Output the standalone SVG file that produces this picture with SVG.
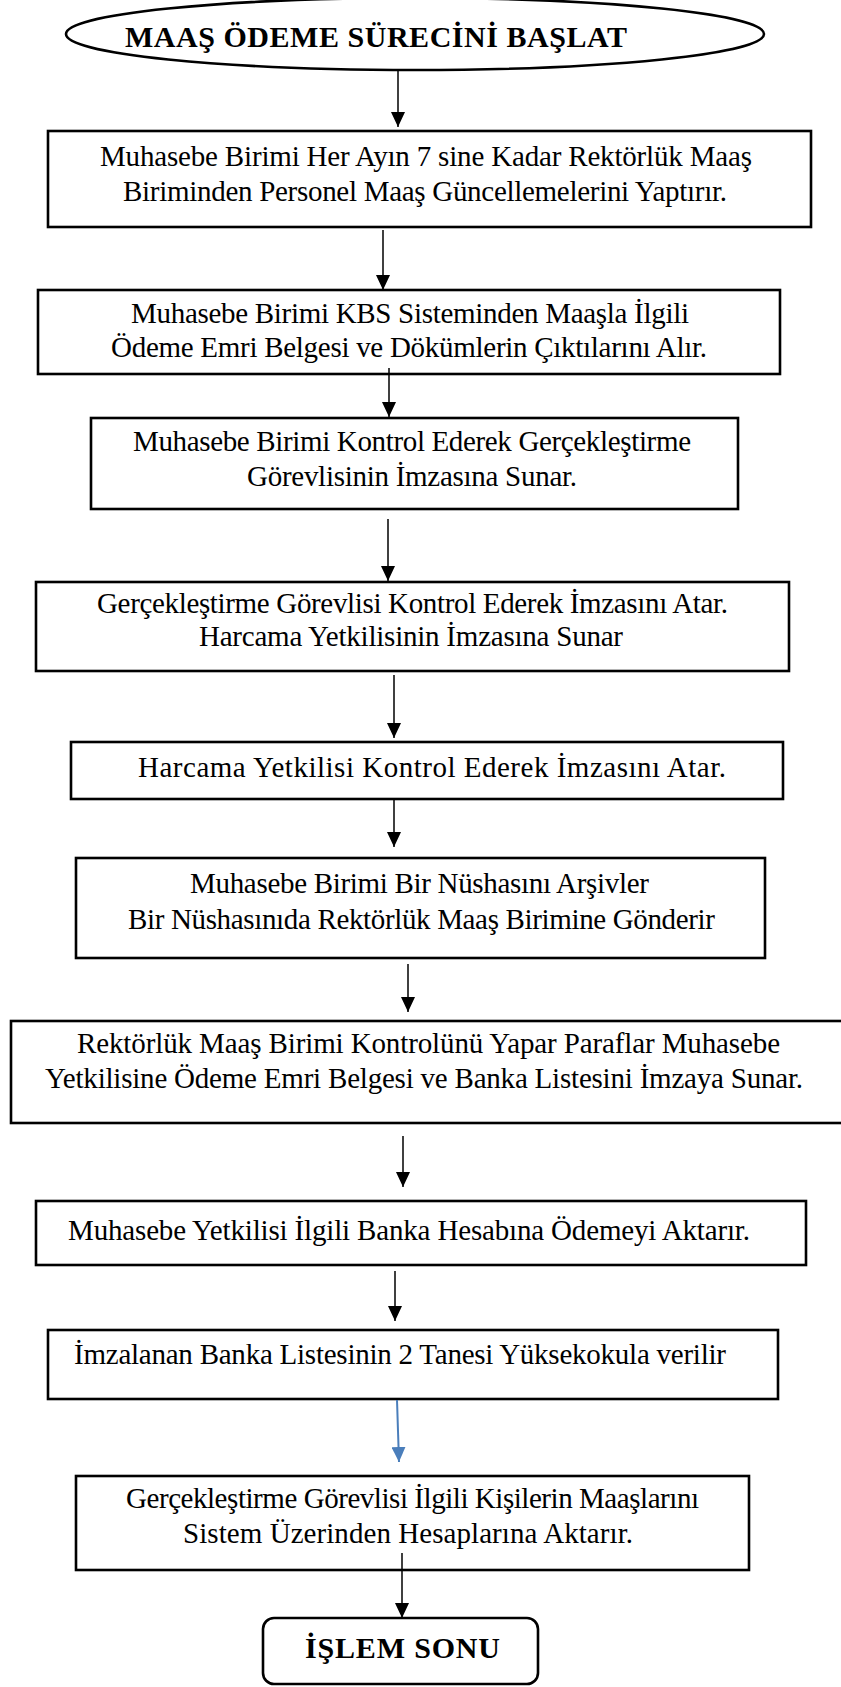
<svg xmlns="http://www.w3.org/2000/svg" width="841" height="1687" viewBox="0 0 841 1687">
<style>
.bg{fill:#ffffff}
.box{fill:#ffffff;stroke:#000000;stroke-width:2.6}
.t{font-family:"Liberation Serif","Times New Roman",serif;font-size:29px;fill:#000000}
.tb{font-family:"Liberation Serif","Times New Roman",serif;font-size:30px;font-weight:bold;fill:#000000}
.c{fill:none;stroke:#000000;stroke-width:1.5}
.cb{fill:none;stroke:#4a7ebb;stroke-width:2}
</style>
<defs>
<marker id="ah" markerUnits="userSpaceOnUse" markerWidth="16" markerHeight="14" refX="15" refY="7" orient="auto" viewBox="0 0 16 14">
<path d="M0,0 L15,7 L0,14 Z" fill="#000000"/>
</marker>
<marker id="ahb" markerUnits="userSpaceOnUse" markerWidth="16" markerHeight="14" refX="15" refY="7" orient="auto" viewBox="0 0 16 14">
<path d="M0,0 L15,7 L0,14 Z" fill="#4a7ebb"/>
</marker>
</defs>
<rect class="bg" x="0" y="0" width="841" height="1687"/>

<g id="n0">
<ellipse class="box" cx="415" cy="34" rx="349" ry="36"/>
<text class="tb" x="125" y="47" textLength="502">MAAŞ ÖDEME SÜRECİNİ BAŞLAT</text>
</g>
<g id="n1">
<rect class="box" x="48" y="131" width="763" height="96"/>
<text class="t" x="100" y="166" textLength="652">Muhasebe Birimi Her Ayın 7 sine Kadar Rektörlük Maaş</text>
<text class="t" x="123" y="201" textLength="604">Biriminden Personel Maaş Güncellemelerini Yaptırır.</text>
</g>
<g id="n2">
<rect class="box" x="38" y="290" width="742" height="84"/>
<text class="t" x="131" y="323" textLength="558">Muhasebe Birimi KBS Sisteminden Maaşla İlgili</text>
<text class="t" x="111" y="357" textLength="596">Ödeme Emri Belgesi ve Dökümlerin Çıktılarını Alır.</text>
</g>
<g id="n3">
<rect class="box" x="91" y="418" width="647" height="91"/>
<text class="t" x="133" y="451" textLength="558">Muhasebe Birimi Kontrol Ederek Gerçekleştirme</text>
<text class="t" x="247" y="486" textLength="330">Görevlisinin İmzasına Sunar.</text>
</g>
<g id="n4">
<rect class="box" x="36" y="582" width="753" height="89"/>
<text class="t" x="97" y="613" textLength="631">Gerçekleştirme Görevlisi Kontrol Ederek İmzasını Atar.</text>
<text class="t" x="199" y="646" textLength="424">Harcama Yetkilisinin İmzasına Sunar</text>
</g>
<g id="n5">
<rect class="box" x="71" y="742" width="712" height="57"/>
<text class="t" x="138" y="777" textLength="588">Harcama Yetkilisi Kontrol Ederek İmzasını Atar.</text>
</g>
<g id="n6">
<rect class="box" x="76" y="858" width="689" height="100"/>
<text class="t" x="190" y="893" textLength="459">Muhasebe Birimi Bir Nüshasını Arşivler</text>
<text class="t" x="128" y="929" textLength="587">Bir Nüshasınıda Rektörlük Maaş Birimine Gönderir</text>
</g>
<g id="n7">
<rect class="box" x="11" y="1021" width="845" height="102"/>
<text class="t" x="77" y="1053" textLength="703">Rektörlük Maaş Birimi Kontrolünü Yapar Paraflar Muhasebe</text>
<text class="t" x="45" y="1088" textLength="758">Yetkilisine Ödeme Emri Belgesi ve Banka Listesini İmzaya  Sunar.</text>
</g>
<g id="n8">
<rect class="box" x="36" y="1201" width="770" height="64"/>
<text class="t" x="68" y="1240" textLength="682">Muhasebe Yetkilisi İlgili Banka Hesabına Ödemeyi Aktarır.</text>
</g>
<g id="n9">
<rect class="box" x="48" y="1330" width="730" height="69"/>
<text class="t" x="74" y="1364" textLength="652">İmzalanan Banka Listesinin 2 Tanesi Yüksekokula verilir</text>
</g>
<g id="n10">
<rect class="box" x="76" y="1476" width="673" height="94"/>
<text class="t" x="126" y="1508" textLength="573">Gerçekleştirme Görevlisi İlgili Kişilerin Maaşlarını</text>
<text class="t" x="183" y="1543" textLength="450">Sistem Üzerinden Hesaplarına Aktarır.</text>
</g>
<g id="n11">
<rect class="box" x="263" y="1618" width="275" height="66" rx="11" ry="11"/>
<text class="tb" x="305" y="1658" textLength="195">İŞLEM SONU</text>
</g>

<g id="connectors">
<line class="c" x1="398" y1="71" x2="398" y2="127" marker-end="url(#ah)"/>
<line class="c" x1="383" y1="230" x2="383" y2="290" marker-end="url(#ah)"/>
<line class="c" x1="389" y1="368" x2="389" y2="417" marker-end="url(#ah)"/>
<line class="c" x1="388" y1="519" x2="388" y2="581" marker-end="url(#ah)"/>
<line class="c" x1="394" y1="675" x2="394" y2="738" marker-end="url(#ah)"/>
<line class="c" x1="394" y1="800" x2="394" y2="847" marker-end="url(#ah)"/>
<line class="c" x1="408" y1="964" x2="408" y2="1012" marker-end="url(#ah)"/>
<line class="c" x1="403" y1="1136" x2="403" y2="1187" marker-end="url(#ah)"/>
<line class="c" x1="395" y1="1271" x2="395" y2="1321" marker-end="url(#ah)"/>
<line class="cb" x1="397" y1="1400" x2="399" y2="1462" marker-end="url(#ahb)"/>
<line class="c" x1="402" y1="1553" x2="402" y2="1618" marker-end="url(#ah)"/>
</g>
</svg>
